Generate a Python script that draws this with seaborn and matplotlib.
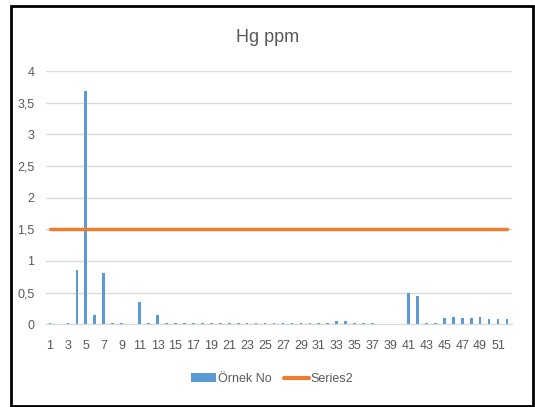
import numpy as np
import pandas as pd
import matplotlib
matplotlib.use("Agg")
import matplotlib.pyplot as plt
from matplotlib.patches import Rectangle
from matplotlib.lines import Line2D
from matplotlib.patches import Patch
import seaborn as sns

categories = [str(i) for i in range(1, 53)]
hg_values = [0.02, 0, 0.02, 0.85, 3.68, 0.15, 0.81, 0.02, 0.02, 0,
             0.35, 0.02, 0.15, 0.02, 0.02, 0.02, 0.02, 0.02, 0.02, 0.02,
             0.02, 0.02, 0.02, 0.02, 0.02, 0.02, 0.02, 0.02, 0.02, 0.02,
             0.02, 0.02, 0.06, 0.06, 0.02, 0.02, 0.02, 0, 0, 0,
             0.50, 0.45, 0.02, 0.02, 0.10, 0.12, 0.10, 0.10, 0.12, 0.08,
             0.08, 0.08]
series2 = [1.5] * 52
yticks = [0, 0.5, 1, 1.5, 2, 2.5, 3, 3.5, 4]
ytick_labels = ["0", "0,5", "1", "1,5", "2", "2,5", "3", "3,5", "4"]

sns.set_style("white")
plt.rcParams['font.family'] = ['Liberation Sans Narrow', 'Liberation Sans', 'DejaVu Sans']

df = pd.DataFrame({"cat": categories, "val": hg_values})

fig = plt.figure(figsize=(5.35, 4.07), dpi=100)
ax = fig.add_axes([45.5 / 535, 1 - 324.3 / 407, (511.5 - 45.5) / 535, (324.3 - 71) / 407])

blue = "#5B9BD5"
orange = "#ED7D31"
sns.barplot(data=df, x="cat", y="val", color=blue, width=0.3, ax=ax,
            saturation=1, edgecolor="none", order=categories)
sns.lineplot(x=np.arange(len(series2)), y=series2, color=orange, linewidth=2.5,
             ax=ax, solid_capstyle="round")

ax.set_xlim(-0.5, len(categories) - 0.5)
ax.set_ylim(0, 4)
ax.set_yticks(yticks)
ax.set_yticklabels(ytick_labels)
ax.set_xticks(range(0, len(categories), 2))
ax.set_xticklabels(categories[::2])
ax.grid(axis="y", color="#D9D9D9", linewidth=1)
ax.set_axisbelow(True)
for s in ["top", "right", "left"]:
    ax.spines[s].set_visible(False)
ax.spines["bottom"].set_color("#D9D9D9")
ax.tick_params(axis="both", length=0, labelsize=9, colors="#595959")
ax.tick_params(axis="x", pad=11)
ax.tick_params(axis="y", pad=8)
ax.set_xlabel("")
ax.set_ylabel("")

fig.text(268 / 535, 1 - 37 / 407, "Hg ppm", ha="center", va="center",
         fontsize=13, color="#595959")

handles = [Patch(facecolor=blue, edgecolor="none", label="Örnek No"),
           Line2D([0], [0], color=orange, linewidth=3, label="Series2")]
fig.legend(handles=handles, loc="center", bbox_to_anchor=(272 / 535, 1 - 379 / 407),
           ncol=2, frameon=False, fontsize=9, labelcolor="#595959",
           handlelength=2.0, handletextpad=0.15, columnspacing=1.0)

fig.patches.append(Rectangle((11 / 535, 1 - 406 / 407), (533 - 11) / 535, (406 - 6) / 407,
                             transform=fig.transFigure, fill=False, edgecolor="black",
                             linewidth=2))

fig.savefig("out.png", dpi=100)
